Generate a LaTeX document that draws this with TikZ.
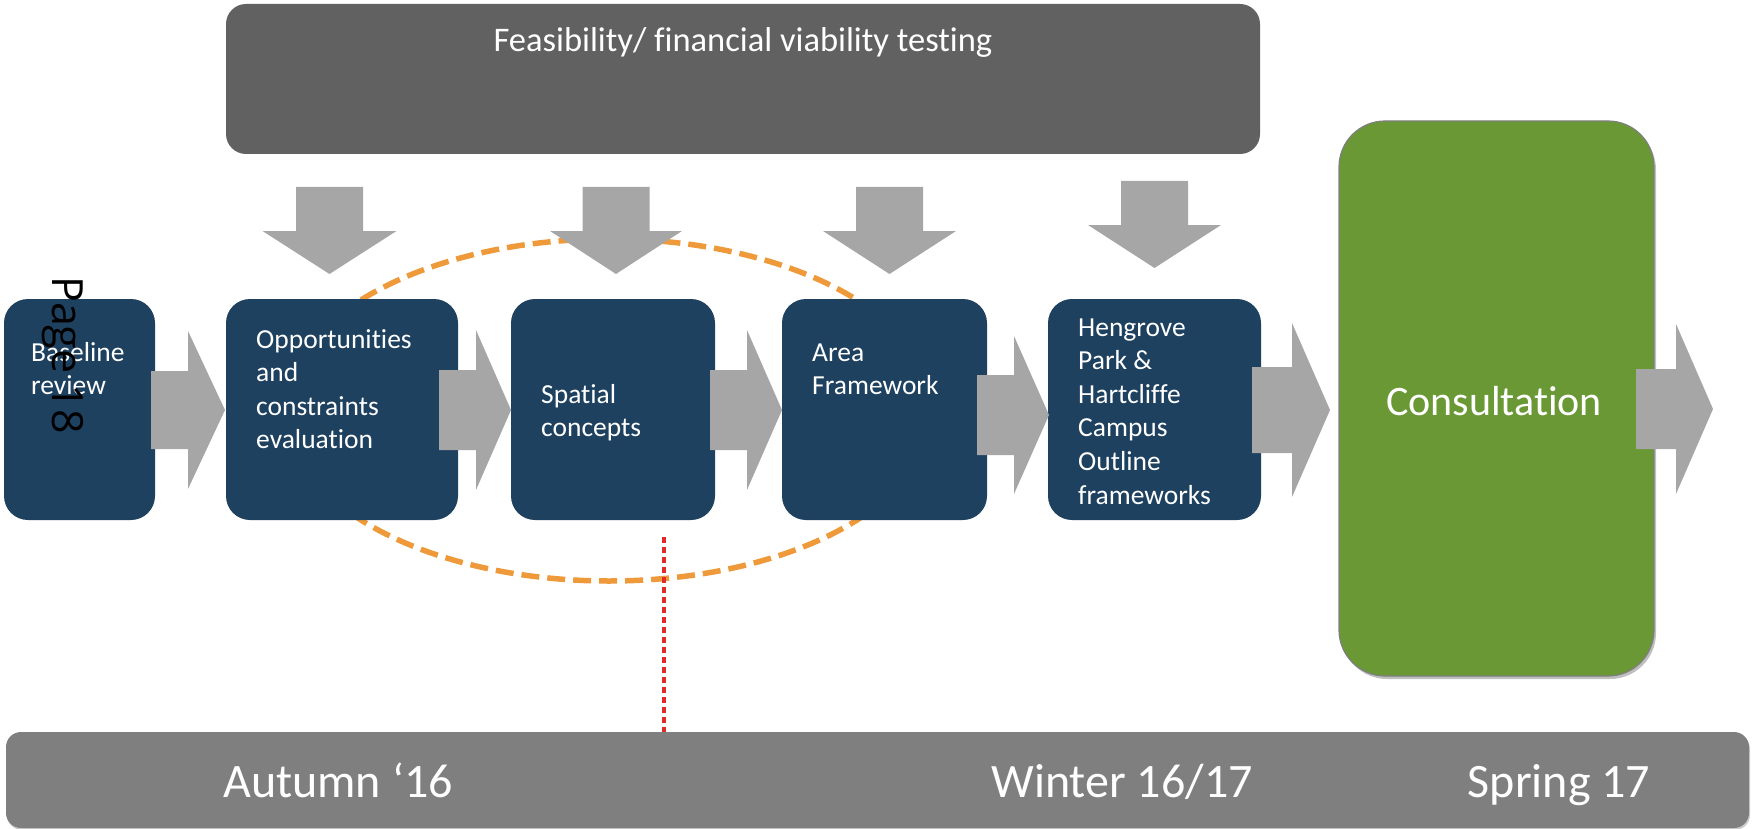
\documentclass[tikz,border=0pt]{standalone}
\usepackage{fontspec}
\setmainfont{Carlito}[Ligatures=NoCommon]
\newfontfamily\pagefont{Open Sans}
\usetikzlibrary{shadows}
\definecolor{topgray}{HTML}{616161}
\definecolor{boxblue}{HTML}{1F4160}
\definecolor{arrgray}{HTML}{A6A6A6}
\definecolor{consgreen}{HTML}{699834}
\definecolor{consborder}{HTML}{7F7F7F}
\definecolor{bargray}{HTML}{7F7F7F}
\definecolor{loopor}{HTML}{EE9A3A}
\definecolor{nowred}{HTML}{E02B2B}
\newcommand\ml[1]{\begin{tabular}[t]{@{}l@{}}#1\end{tabular}}
% right block arrow: tail x, neck x, tip x, centre y, shaft half, head half
\newcommand\rarrow[6]{\fill[arrgray] (#1,#4-#5) -- (#2,#4-#5) -- (#2,#4-#6) -- (#3,#4) -- (#2,#4+#6) -- (#2,#4+#5) -- (#1,#4+#5) -- cycle;}
% down block arrow: centre x, top y, neck y, tip y, shaft half, head half
\newcommand\darrow[6]{\fill[arrgray] (#1-#5,#2) -- (#1+#5,#2) -- (#1+#5,#3) -- (#1+#6,#3) -- (#1,#4) -- (#1-#6,#3) -- (#1-#5,#3) -- cycle;}
\begin{document}
\begin{tikzpicture}[x=1pt,y=-1pt,
  stepbox/.style={fill=boxblue, rounded corners=24pt, inner sep=0pt, minimum height=221pt},
  lbl/.style={text=white, inner sep=0pt, anchor=base west, font=\fontsize{27.5}{33.6}\selectfont},
  bartext/.style={text=white, inner sep=0pt, anchor=base, font=\fontsize{48}{56}\selectfont}]
\useasboundingbox (0,0) rectangle (1752,829);

% iteration loop (behind everything)
\draw[loopor, line width=5.5pt, dash pattern=on 18pt off 8pt] (609,410) ellipse [x radius=324, y radius=171];

% top bar
\node[fill=topgray, rounded corners=20pt, minimum width=1034pt, minimum height=150pt, inner sep=0pt] (feas) at (743,79) {};
\node[text=white, inner sep=0pt, anchor=base, font=\fontsize{34.5}{40}\selectfont] (feast) at (743,52) {Feasibility/ financial viability testing};

% process boxes
\node[stepbox, minimum width=151pt] (base) at (79.5,409.5) {};
\node[stepbox, minimum width=232pt] (opp) at (342,409.5) {};
\node[stepbox, minimum width=204pt] (spat) at (613,409.5) {};
\node[stepbox, minimum width=205pt] (area) at (884.5,409.5) {};
\node[stepbox, minimum width=213pt] (heng) at (1154.5,409.5) {};
\node[fill=consgreen, draw=consborder, line width=1.2pt, rounded corners=46pt, minimum width=315pt, minimum height=555pt, inner sep=0pt,
  drop shadow={shadow xshift=2pt, shadow yshift=-3pt, opacity=0.25, fill=black}] (cons) at (1496.5,398.5) {};

% labels
\node[lbl] (baset) at (31,361) {\ml{Baseline\\review}};
\node[lbl] (oppt) at (256,348) {\ml{Opportunities\\and\\constraints\\evaluation}};
\node[lbl] (spatt) at (541,403) {\ml{Spatial\\concepts}};
\node[lbl] (areat) at (812,361) {\ml{Area\\Framework}};
\node[lbl] (hengt) at (1078,336) {\ml{Hengrove\\Park \&\\Hartcliffe\\Campus\\Outline\\frameworks}};
\node[text=white, inner sep=0pt, anchor=base, font=\fontsize{42}{50}\selectfont] (const) at (1494,415) {Consultation};

% down arrows from feasibility
\darrow{329.5}{187}{231}{274}{33.5}{67}
\darrow{616}{187}{231}{274}{33.5}{66}
\darrow{889.5}{187}{231}{274}{33.5}{66.5}
\darrow{1154.5}{181}{225}{268}{33.5}{66.5}

% right arrows between steps
\rarrow{151}{188}{225}{410}{39}{79}
\rarrow{439}{476}{511}{410}{40}{80}
\rarrow{710}{747}{782}{410}{40}{80}
\rarrow{977}{1014}{1049}{415}{40}{79}
\rarrow{1252}{1292}{1330}{410}{43}{87}
\rarrow{1636}{1676}{1713}{409}{40}{85}

% timeline bar
\node[fill=bargray, rounded corners=15pt, minimum width=1743pt, minimum height=96pt, inner sep=0pt,
  drop shadow={shadow xshift=1pt, shadow yshift=-2pt, opacity=0.2, fill=black}] (bar) at (877.5,780) {};
\coordinate (now) at (664,537);
\draw[nowred, line width=4.5pt, dash pattern=on 6pt off 4pt] (now) -- (now |- bar.north);
\node[bartext] (aut) at (338,797) {Autumn ‘16};
\node[bartext] (win) at (1122,797) {Winter 16/17};
\node[bartext] (spr) at (1559,797) {Spring 17};

% page stamp
\node[rotate=-90, anchor=base west, inner sep=0pt, text=black, font=\pagefont\fontsize{43}{50}\selectfont] (page) at (52,276) {Page 18};
\end{tikzpicture}
\end{document}
